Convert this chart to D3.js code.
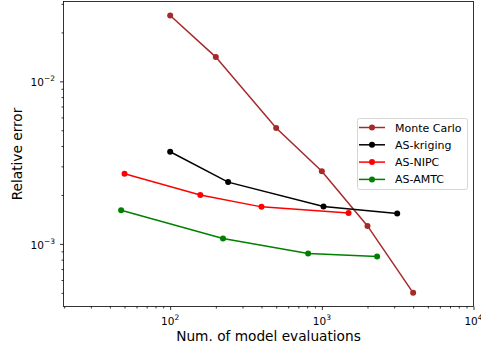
<!DOCTYPE html>
<html><head><meta charset="utf-8">
<script src="https://cdn.jsdelivr.net/npm/d3@7"></script>
<style>body{margin:0;background:#fff}svg{font-family:"DejaVu Sans",sans-serif}</style>
</head><body><svg id="c" width="481" height="350"></svg>
<script>
const seriesNames = ["Monte Carlo", "AS-kriging", "AS-NIPC", "AS-AMTC"];
const seriesColors = ["#a52a2a", "#000000", "#ff0000", "#008000"];
const mcX = [100, 200, 500, 1000, 2000, 4000];
const mcY = [0.0254, 0.0141, 0.00516, 0.0028, 0.00129, 0.0005];
const krigX = [100, 241, 1026, 3140];
const krigY = [0.00369, 0.0024, 0.0017, 0.00154];
const nipcX = [50, 158, 400, 1500];
const nipcY = [0.0027, 0.0020, 0.00169, 0.00155];
const amtcX = [47.5, 223, 812, 2315];
const amtcY = [0.00161, 0.00108, 0.000872, 0.000836];
const xMajorTicks = [100, 1000, 10000];
const yMajorTicks = [0.001, 0.01];
const xLabel = "Num. of model evaluations";
const yLabel = "Relative error";

const svg = d3.select("#c");
const L = 63.5, R = 473.5, T = 1.5, B = 306.5;
const x = d3.scaleLog().domain([19.8, 10000]).range([L, R]);
const y = d3.scaleLog().domain([0.000412, 0.031]).range([B, T]);

function sup(sel, d){
  const e = Math.round(Math.log10(d));
  sel.text("10");
  sel.append("tspan").attr("dy", -5).attr("font-size", 7.5).text(e < 0 ? "\u2212" + (-e) : e);
}
// minor ticks
const xMinor = [], yMinor = [];
for (let p = 1; p <= 4; p++) for (let m = 2; m <= 9; m++) { const v = m * Math.pow(10, p); if (v > 19.8 && v < 10000) xMinor.push(v); }
for (let p = -4; p <= -2; p++) for (let m = 2; m <= 9; m++) { const v = m * Math.pow(10, p); if (v > 0.000412 && v < 0.031) yMinor.push(v); }

const xAxis = d3.axisBottom(x).tickValues(xMajorTicks).tickSize(3.5).tickFormat("");
const xAxisMin = d3.axisBottom(x).tickValues(xMinor).tickSize(2).tickFormat("");
const yAxis = d3.axisLeft(y).tickValues(yMajorTicks).tickSize(3.5).tickFormat("");
const yAxisMin = d3.axisLeft(y).tickValues(yMinor).tickSize(2).tickFormat("");

const gx = svg.append("g").attr("transform", `translate(0,${B})`);
gx.append("g").call(xAxisMin); gx.append("g").call(xAxis);
const gy = svg.append("g").attr("transform", `translate(${L},0)`);
gy.append("g").call(yAxisMin); gy.append("g").call(yAxis);
svg.selectAll(".domain").remove();
svg.selectAll(".tick line").attr("stroke", "#000").attr("stroke-width", 0.8);

// tick labels
svg.append("g").selectAll("text").data(xMajorTicks).join("text")
  .attr("x", d => x(d)).attr("y", B + 18).attr("text-anchor", "middle")
  .attr("font-size", 10.5).attr("fill", "#000").each(function(d){ sup(d3.select(this), d); });
svg.append("g").selectAll("text").data(yMajorTicks).join("text")
  .attr("x", L - 8.5).attr("y", d => y(d) + 4.7).attr("text-anchor", "end")
  .attr("font-size", 10.5).attr("fill", "#000").each(function(d){ sup(d3.select(this), d); });

// frame
svg.append("rect").attr("x", L).attr("y", T).attr("width", R - L).attr("height", B - T)
  .attr("fill", "none").attr("stroke", "#000").attr("stroke-width", 0.8);

// series
const data = [[mcX, mcY], [krigX, krigY], [nipcX, nipcY], [amtcX, amtcY]];
const line = d3.line().x(d => x(d[0])).y(d => y(d[1]));
data.forEach((s, i) => {
  const pts = s[0].map((v, k) => [v, s[1][k]]);
  const g = svg.append("g");
  g.append("path").datum(pts).attr("d", line).attr("fill", "none")
    .attr("stroke", seriesColors[i]).attr("stroke-width", 1.5);
  g.selectAll("circle").data(pts).join("circle")
    .attr("cx", d => x(d[0])).attr("cy", d => y(d[1])).attr("r", 3)
    .attr("fill", seriesColors[i]);
});

// axis labels
svg.append("text").attr("x", (L + R) / 2).attr("y", 341).attr("text-anchor", "middle")
  .attr("font-size", 13.7).attr("fill", "#000").text(xLabel);
svg.append("text").attr("transform", `translate(21.5,${(T + B) / 2}) rotate(-90)`)
  .attr("text-anchor", "middle").attr("font-size", 13.7).attr("fill", "#000").text(yLabel);

// legend
const lg = svg.append("g");
lg.append("rect").attr("x", 357.5).attr("y", 118.5).attr("width", 110).attr("height", 71)
  .attr("rx", 2).attr("fill", "#fff").attr("fill-opacity", 0.8).attr("stroke", "#ccc").attr("stroke-width", 0.8);
seriesNames.forEach((n, i) => {
  const yy = 127.5 + i * 17.3;
  lg.append("line").attr("x1", 359).attr("x2", 385).attr("y1", yy).attr("y2", yy)
    .attr("stroke", seriesColors[i]).attr("stroke-width", 1.5);
  lg.append("circle").attr("cx", 372).attr("cy", yy).attr("r", 3).attr("fill", seriesColors[i]);
  lg.append("text").attr("x", 395).attr("y", yy + 4).attr("font-size", 11).attr("fill", "#000").text(n);
});
</script></body></html>
